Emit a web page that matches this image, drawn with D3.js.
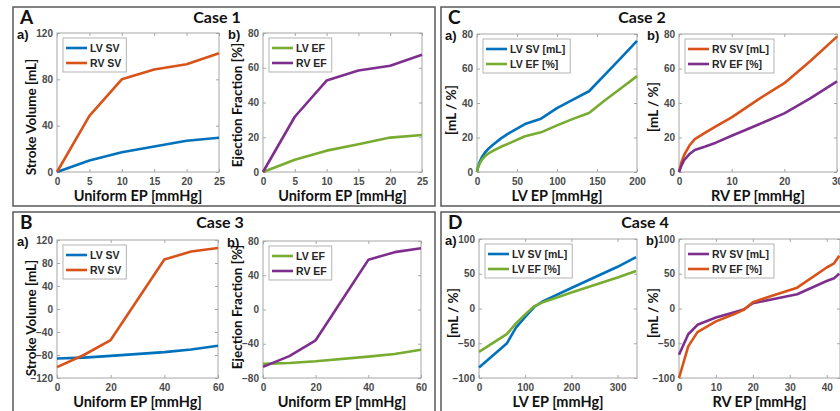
<!DOCTYPE html>
<html>
<head>
<meta charset="utf-8">
<script src="https://cdn.jsdelivr.net/npm/d3@7"></script>
<style>
  body { margin: 0; background: #fff; }
  svg text { font-family: "Liberation Sans", Arial, sans-serif; }
  .lbl { font-family: Lato, "Open Sans", sans-serif !important; font-weight: bold; }
</style>
</head>
<body>
<svg id="fig" width="840" height="411"></svg>
<script>

/*** DATA ***/

// case 1 : uniform EP
const c1X    = [0, 5, 10, 15, 20, 25];
const c1LvSv = [0, 10, 17, 22, 27, 29.5];
const c1RvSv = [0, 48.5, 80, 88.5, 93, 102.5];
const c1LvEf = [0, 7.1, 12.3, 16, 19.8, 21.3];
const c1RvEf = [0, 31.8, 52.6, 58.4, 61.2, 67.5];

// case 2 : LV EP / RV EP
const c2LvX  = [0, 1, 3, 6, 10, 15, 20, 30, 40, 60, 80, 100, 120, 140, 160, 180, 200];
const c2LvSv = [0, 2.5, 5.5, 8.5, 11.3, 13.8, 15.8, 19.5, 22.5, 27.8, 30.9, 37, 42, 46.8, 56.5, 66.2, 76];
const c2LvEf = [0, 2, 4.5, 7, 9.2, 11, 12.3, 14.6, 16.6, 20.7, 23, 27, 30.8, 34.2, 41.6, 48.6, 55.6];
const c2RvX  = [0, 0.5, 1, 2, 3, 5, 7, 10, 15, 20, 25, 30];
const c2RvSv = [0, 6, 10, 15.5, 19, 22.8, 26.5, 31.7, 42, 51.5, 64.5, 78.5];
const c2RvEf = [0, 4, 7, 10.4, 12.8, 14.8, 17, 21, 27.4, 34, 42.8, 52.5];

// case 3 : uniform EP
const c3X    = [0, 10, 20, 40, 50, 60];
const c3LvSv = [-86, -84.5, -81.5, -75, -70.5, -64];
const c3RvSv = [-101, -80, -54, 86, 100, 106];
const c3LvEf = [-63.5, -62.5, -60.5, -55, -52, -47];
const c3RvEf = [-67, -54.5, -36, 58, 67, 71.5];

// case 4 : LV EP / RV EP
const c4LvX  = [0, 60, 80, 100, 120, 140, 200, 300, 340];
const c4LvSv = [-85, -50.5, -27.5, -12, 2.5, 11, 29.5, 60, 74];
const c4LvEf = [-62.5, -37, -21.5, -8.5, 3.5, 9.5, 23, 44.5, 54];
const c4RvX  = [0, 2.5, 5, 10, 15, 17.5, 20, 25, 32, 40, 42, 43.4];
const c4RvSv = [-66.5, -37, -23.5, -13, -5.5, -1.5, 7.5, 13, 20.5, 39.5, 43.5, 50];
const c4RvEf = [-100, -54.5, -34, -18.5, -8, -2, 9, 18, 30, 59, 65, 76];

// ticks
const ticks0to25   = [0, 5, 10, 15, 20, 25];
const ticks0to60   = [0, 20, 40, 60];
const ticks0to200  = [0, 50, 100, 150, 200];
const ticks0to30   = [0, 10, 20, 30];
const ticks0to300  = [0, 100, 200, 300];
const ticks0to40   = [0, 10, 20, 30, 40];
const ticksSv120   = [0, 40, 80, 120];
const ticksEf80    = [0, 20, 40, 60, 80];
const ticksSym120  = [-120, -80, -40, 0, 40, 80, 120];
const ticksSym80   = [-80, -40, 0, 40, 80];
const ticksSym100  = [-100, -50, 0, 50, 100];

/*** STYLE ***/

const blue = "#0072BD", orange = "#D95319", purple = "#7E2F8E", green = "#77AC30";

let svg = d3.select("#fig");

// outer case boxes
const caseBoxes = [
    {x: 13,  y: 7,   w: 422, h: 199, letter: "A", title: "Case 1", tx: 217},
    {x: 441, y: 7,   w: 410, h: 199, letter: "C", title: "Case 2", tx: 642},
    {x: 13,  y: 212, w: 422, h: 210, letter: "B", title: "Case 3", tx: 220},
    {x: 441, y: 212, w: 410, h: 210, letter: "D", title: "Case 4", tx: 645}
];

caseBoxes.forEach(function(b) {
    svg.append("rect")
        .attr("x", b.x).attr("y", b.y).attr("width", b.w).attr("height", b.h)
        .attr("fill", "none").attr("stroke", "#595959").attr("stroke-width", 1.5);
    svg.append("text").attr("class", "lbl")
        .attr("x", b.x + 7).attr("y", b.y + 17)
        .attr("font-size", 19).attr("fill", "#111").text(b.letter);
    svg.append("text").attr("class", "lbl")
        .attr("x", b.tx).attr("y", b.y + 16).attr("text-anchor", "middle")
        .attr("font-size", 16).attr("fill", "#111").text(b.title);
});

// sub plots (ylc = centre of the y label)
const panels = [
    {l: 57,  r: 219, t: 33,  b: 172, tag: "a)", tagX: 17,  ylc: 117, xd: [0, 25],   xt: ticks0to25,  yd: [0, 120],    yt: ticksSv120,
     xl: "Uniform EP [mmHg]", yl: "Stroke Volume [mL]", x: c1X,
     s: [{n: "LV SV", v: c1LvSv, c: blue}, {n: "RV SV", v: c1RvSv, c: orange}]},
    {l: 263, r: 422, t: 33,  b: 172, tag: "b)", tagX: 228, ylc: 105, xd: [0, 25],   xt: ticks0to25,  yd: [0, 80],     yt: ticksEf80,
     xl: "Uniform EP [mmHg]", yl: "Ejection Fraction [%]", x: c1X,
     s: [{n: "LV EF", v: c1LvEf, c: green}, {n: "RV EF", v: c1RvEf, c: purple}]},
    {l: 477, r: 637, t: 34,  b: 172, tag: "a)", tagX: 445, ylc: 110, xd: [0, 200],  xt: ticks0to200, yd: [0, 80],     yt: ticksEf80,
     xl: "LV EP [mmHg]", yl: "[mL / %]", x: c2LvX,
     s: [{n: "LV SV [mL]", v: c2LvSv, c: blue}, {n: "LV EF [%]", v: c2LvEf, c: green}]},
    {l: 679, r: 837, t: 34,  b: 172, tag: "b)", tagX: 647, ylc: 107, xd: [0, 30],   xt: ticks0to30,  yd: [0, 80],     yt: ticksEf80,
     xl: "RV EP [mmHg]", yl: "[mL / %]", x: c2RvX,
     s: [{n: "RV SV [mL]", v: c2RvSv, c: orange}, {n: "RV EF [%]", v: c2RvEf, c: purple}]},
    {l: 57,  r: 218, t: 240, b: 378, tag: "a)", tagX: 17,  ylc: 318, xd: [0, 60],   xt: ticks0to60,  yd: [-120, 120], yt: ticksSym120,
     xl: "Uniform EP [mmHg]", yl: "Stroke Volume [mL]", x: c3X,
     s: [{n: "LV SV", v: c3LvSv, c: blue}, {n: "RV SV", v: c3RvSv, c: orange}]},
    {l: 263, r: 421, t: 241, b: 378, tag: "b)", tagX: 227, ylc: 307, xd: [0, 60],   xt: ticks0to60,  yd: [-80, 80],   yt: ticksSym80,
     xl: "Uniform EP [mmHg]", yl: "Ejection Fraction [%]", x: c3X,
     s: [{n: "LV EF", v: c3LvEf, c: green}, {n: "RV EF", v: c3RvEf, c: purple}]},
    {l: 479, r: 637, t: 239, b: 378, tag: "a)", tagX: 445, ylc: 313, xd: [0, 342],  xt: ticks0to300, yd: [-100, 100], yt: ticksSym100,
     xl: "LV EP [mmHg]", yl: "[mL / %]", x: c4LvX,
     s: [{n: "LV SV [mL]", v: c4LvSv, c: blue}, {n: "LV EF [%]", v: c4LvEf, c: green}]},
    {l: 679, r: 840, t: 239, b: 378, tag: "b)", tagX: 646, ylc: 313, xd: [0, 43.6], xt: ticks0to40,  yd: [-100, 100], yt: ticksSym100,
     xl: "RV EP [mmHg]", yl: "[mL / %]", x: c4RvX,
     s: [{n: "RV SV [mL]", v: c4RvSv, c: purple}, {n: "RV EF [%]", v: c4RvEf, c: orange}]}
];

function drawPanel(p) {
    let x = d3.scaleLinear().domain(p.xd).range([p.l, p.r]),
        y = d3.scaleLinear().domain(p.yd).range([p.b, p.t]);

    let g = svg.append("g");

    // white plot area + box
    g.append("rect")
        .attr("x", p.l).attr("y", p.t).attr("width", p.r - p.l).attr("height", p.b - p.t)
        .attr("fill", "#fff").attr("stroke", "#a6a6a6").attr("stroke-width", 1);

    // axes (ticks inside like matlab)
    let ax = [
        {a: d3.axisBottom(x).tickValues(p.xt), pos: "translate(0," + p.b + ")", lab: true, pad: 6},
        {a: d3.axisTop(x).tickValues(p.xt),    pos: "translate(0," + p.t + ")", lab: false, pad: 0},
        {a: d3.axisLeft(y).tickValues(p.yt),   pos: "translate(" + p.l + ",0)", lab: true, pad: 4},
        {a: d3.axisRight(y).tickValues(p.yt),  pos: "translate(" + p.r + ",0)", lab: false, pad: 0}
    ];
    ax.forEach(function(d) {
        d.a.tickSizeInner(-3).tickSizeOuter(0).tickPadding(d.pad);
        if (!d.lab) d.a.tickFormat("");
        let s = g.append("g").attr("transform", d.pos).call(d.a);
        s.select(".domain").remove();
        s.selectAll(".tick line").attr("stroke", "#a6a6a6");
        s.selectAll(".tick text")
            .attr("font-size", 10).attr("font-weight", "bold").attr("fill", "#4a4a4a")
            .attr("font-family", "'Liberation Sans', Arial, sans-serif");
    });

    // lines
    let line = d3.line()
        .x(function(d, i) { return x(p.x[i]); })
        .y(function(d) { return y(d); });
    p.s.forEach(function(s) {
        g.append("path")
            .attr("d", line(s.v))
            .attr("fill", "none").attr("stroke", s.c).attr("stroke-width", 2.6)
            .attr("stroke-linejoin", "round");
    });

    // legend
    let lx = p.l + 6, ly = p.t + 5;
    let lg = g.append("g");
    let box = lg.append("rect").attr("x", lx).attr("y", ly).attr("height", 34)
        .attr("fill", "#fff").attr("stroke", "#b3b3b3").attr("stroke-width", 1);
    let maxW = 0;
    p.s.forEach(function(s, i) {
        let yy = ly + 10 + i * 15;
        lg.append("line").attr("x1", lx + 3).attr("x2", lx + 24).attr("y1", yy).attr("y2", yy)
            .attr("stroke", s.c).attr("stroke-width", 2.6);
        let t = lg.append("text").attr("x", lx + 27).attr("y", yy + 4)
            .attr("font-size", 10.5).attr("font-weight", "bold").attr("fill", "#262626")
            .text(s.n);
        maxW = Math.max(maxW, t.node().getComputedTextLength());
    });
    box.attr("width", maxW + 32);

    // labels
    svg.append("text").attr("class", "lbl")
        .attr("x", (p.l + p.r) / 2).attr("y", p.b + 29).attr("text-anchor", "middle")
        .attr("font-size", 14.5).attr("fill", "#111").text(p.xl);
    svg.append("text").attr("class", "lbl")
        .attr("transform", "translate(" + (p.l - 26) + "," + p.ylc + ") rotate(-90)")
        .attr("text-anchor", "middle").attr("dy", "0.35em")
        .attr("font-size", 13.5).attr("fill", "#111").text(p.yl);
    svg.append("text")
        .attr("x", p.tagX).attr("y", p.t + 6)
        .attr("font-size", 13).attr("font-weight", "bold").attr("fill", "#111").text(p.tag);
}

panels.forEach(drawPanel);

</script>
</body>
</html>
